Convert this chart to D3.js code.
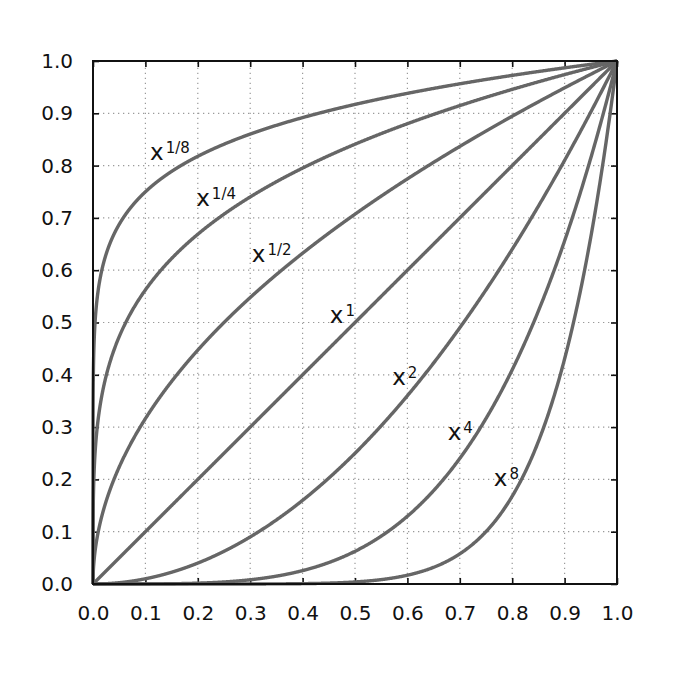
<!DOCTYPE html>
<html><head><meta charset="utf-8">
<script src="https://cdn.jsdelivr.net/npm/d3@7"></script>
<style>body{margin:0;background:#fff}svg{display:block}</style>
</head><body>
<script>
// Data
const exponents = [1/8, 1/4, 1/2, 1, 2, 4, 8];
const expLabels = ["1/8", "1/4", "1/2", "1", "2", "4", "8"];
const tickValues = [0, 0.1, 0.2, 0.3, 0.4, 0.5, 0.6, 0.7, 0.8, 0.9, 1.0];
// label anchor points (data coordinates of the "x" baseline-left)
const labelX = [0.109, 0.197, 0.303, 0.452, 0.571, 0.677, 0.765];
const labelY = [0.811, 0.723, 0.616, 0.499, 0.380, 0.275, 0.187];

const W = 680, H = 679;
const m = {left: 93, top: 61, right: 617, bottom: 584};
const svg = d3.select("body").append("svg").attr("width", W).attr("height", H);
const x = d3.scaleLinear().domain([0, 1]).range([m.left, m.right]);
const y = d3.scaleLinear().domain([0, 1]).range([m.bottom, m.top]);
const font = "'DejaVu Sans', sans-serif";

// grid
const g = svg.append("g");
g.selectAll(".vg").data(tickValues.slice(1, -1)).join("line")
  .attr("x1", d => x(d)).attr("x2", d => x(d)).attr("y1", y(0)).attr("y2", y(1))
  .attr("stroke", "#9a9a9a").attr("stroke-width", 1.2).attr("stroke-dasharray", "1.3,3.7");
g.selectAll(".hg").data(tickValues.slice(1, -1)).join("line")
  .attr("y1", d => y(d)).attr("y2", d => y(d)).attr("x1", x(0)).attr("x2", x(1))
  .attr("stroke", "#9a9a9a").attr("stroke-width", 1.2).attr("stroke-dasharray", "1.3,3.7");

// axes with inward ticks
const fmt = d3.format(".1f");
const axB = svg.append("g").attr("transform", `translate(0,${m.bottom})`)
  .call(d3.axisBottom(x).tickValues(tickValues).tickFormat(fmt).tickSizeInner(-6).tickSizeOuter(0).tickPadding(22));
const axT = svg.append("g").attr("transform", `translate(0,${m.top})`)
  .call(d3.axisTop(x).tickValues(tickValues).tickFormat("").tickSizeInner(-6).tickSizeOuter(0));
const axL = svg.append("g").attr("transform", `translate(${m.left},0)`)
  .call(d3.axisLeft(y).tickValues(tickValues).tickFormat(fmt).tickSizeInner(-6).tickSizeOuter(0).tickPadding(20));
const axR = svg.append("g").attr("transform", `translate(${m.right},0)`)
  .call(d3.axisRight(y).tickValues(tickValues).tickFormat("").tickSizeInner(-6).tickSizeOuter(0));
[axB, axT, axL, axR].forEach(a => {
  a.select(".domain").remove();
  a.selectAll(".tick line").attr("stroke", "#111").attr("stroke-width", 1.6);
  a.selectAll("text").attr("font-family", font).attr("font-size", 20).attr("fill", "#111");
});

// curves
const xs = [];
for (let i = 0; i <= 2000; i++) xs.push(Math.pow(i / 2000, 3));
const line = d3.line().x(d => x(d[0])).y(d => y(d[1]));
svg.append("g").selectAll("path").data(exponents).join("path")
  .attr("d", p => line(xs.map(v => [v, Math.pow(v, p)])))
  .attr("fill", "none").attr("stroke", "#666").attr("stroke-width", 3.4)
  .attr("stroke-linejoin", "round");

// frame
svg.append("rect").attr("x", m.left).attr("y", m.top)
  .attr("width", m.right - m.left).attr("height", m.bottom - m.top)
  .attr("fill", "none").attr("stroke", "#111").attr("stroke-width", 2);

// labels
const lab = svg.append("g").selectAll("text").data(exponents).join("text")
  .attr("x", (d, i) => x(labelX[i])).attr("y", (d, i) => y(labelY[i]))
  .attr("font-family", font).attr("fill", "#111");
lab.append("tspan").attr("font-size", 23).text("x");
lab.append("tspan").attr("font-size", 15).attr("dx", 2).attr("dy", -7).text((d, i) => expLabels[i]);
</script>
</body></html>
